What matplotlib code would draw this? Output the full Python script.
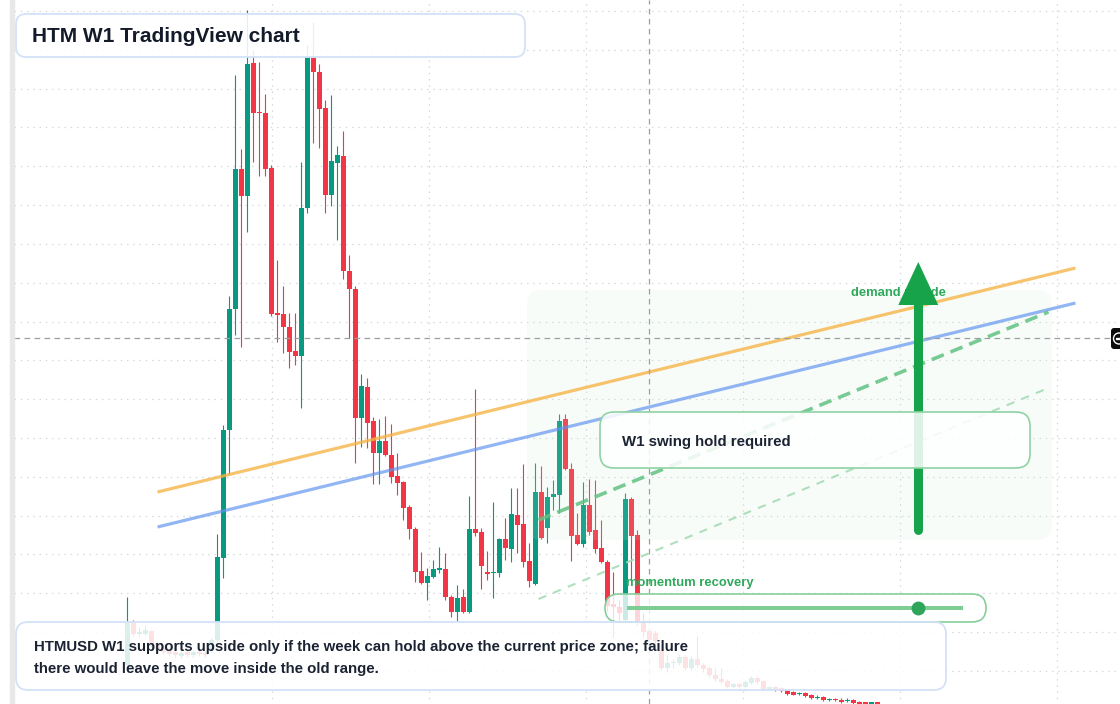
import numpy as np
import matplotlib
matplotlib.use("Agg")
import matplotlib.pyplot as plt
from matplotlib.patches import FancyBboxPatch, Polygon, Rectangle, Circle
from matplotlib.transforms import Affine2D

plt.rcParams['font.family'] = ['Liberation Sans', 'DejaVu Sans']

# ---------------- data (weekly HTMUSD candles) ----------------
open_ = [0.39, 0.82, 0.70, 0.70, 0.73, 0.61, 0.56, 0.53, 0.52, 0.48,
         0.52, 0.49, 0.52, 0.51, 0.54, 0.64, 1.46, 2.74, 3.95, 5.35,
         5.08, 6.41, 5.92, 5.91, 5.36, 3.91, 3.90, 3.77, 3.53, 3.48,
         4.96, 6.46, 6.32, 5.96, 5.09, 5.41, 5.48, 4.33, 4.15, 2.86,
         3.17, 2.83, 2.51, 2.63, 2.49, 2.28, 2.22, 1.97, 1.75, 1.33,
         1.21, 1.27, 1.34, 1.35, 1.07, 0.92, 1.07, 0.92, 1.75, 1.72,
         1.32, 1.31, 1.31, 1.65, 1.55, 1.89, 1.80, 1.43, 1.20, 2.12,
         1.76, 2.07, 2.09, 2.85, 2.35, 1.69, 1.60, 1.99, 1.74, 1.56,
         1.42, 1.00, 0.97, 0.84, 2.05, 1.69, 0.83, 0.73, 0.71, 0.54,
         0.36, 0.41, 0.41, 0.47, 0.36, 0.45, 0.39, 0.36, 0.29, 0.25,
         0.23, 0.17, 0.20, 0.17, 0.21, 0.26, 0.23, 0.15, 0.17, 0.16,
         0.14, 0.12, 0.10, 0.11, 0.09, 0.06, 0.07, 0.04, 0.05, 0.04,
         0.03, 0.04, 0.020, 0.012, 0.004, 0.012]
high = [1.07, 0.84, 0.77, 0.79, 0.74, 0.63, 0.58, 0.55, 0.54, 0.53,
        0.54, 0.54, 0.54, 0.53, 0.66, 1.70, 2.79, 4.08, 6.29, 5.55,
        6.94, 6.54, 6.42, 6.10, 5.39, 4.44, 4.18, 3.91, 3.91, 5.42,
        6.59, 6.82, 6.40, 6.04, 6.09, 5.58, 5.73, 4.49, 4.18, 3.30,
        3.26, 2.87, 2.85, 2.88, 2.80, 2.51, 2.23, 1.99, 1.77, 1.52,
        1.36, 1.44, 1.57, 1.51, 1.09, 1.19, 1.15, 2.08, 3.15, 1.76,
        1.53, 2.02, 1.66, 1.86, 2.16, 2.16, 2.40, 1.61, 2.41, 2.38,
        2.17, 2.24, 2.90, 2.90, 2.41, 1.91, 2.22, 2.25, 2.24, 1.84,
        1.44, 1.32, 1.04, 2.11, 2.07, 1.74, 0.91, 0.76, 0.74, 0.59,
        0.49, 0.45, 0.50, 0.49, 0.48, 0.68, 0.41, 0.38, 0.36, 0.36,
        0.25, 0.21, 0.21, 0.24, 0.28, 0.28, 0.24, 0.18, 0.18, 0.17,
        0.15, 0.13, 0.12, 0.12, 0.10, 0.09, 0.08, 0.06, 0.06, 0.06,
        0.06, 0.05, 0.03, 0.02, 0.02, 0.02]
low = [0.36, 0.68, 0.68, 0.69, 0.57, 0.52, 0.50, 0.48, 0.47, 0.46,
       0.47, 0.47, 0.48, 0.47, 0.52, 0.62, 1.26, 2.30, 3.69, 3.57,
       4.72, 5.42, 5.28, 5.28, 3.88, 3.62, 3.51, 3.36, 3.39, 2.96,
       4.91, 5.61, 5.56, 4.91, 4.98, 4.64, 4.25, 3.66, 2.41, 2.57,
       2.56, 2.20, 2.20, 2.48, 2.21, 2.09, 1.84, 1.65, 1.22, 1.20,
       1.04, 1.26, 1.31, 1.04, 0.87, 0.83, 0.91, 0.91, 1.68, 1.15,
       1.24, 1.06, 1.27, 1.44, 1.42, 1.51, 1.37, 1.17, 1.19, 1.65,
       1.61, 1.94, 1.91, 2.34, 1.43, 1.59, 1.57, 1.69, 1.51, 1.41,
       0.93, 0.67, 0.82, 0.82, 1.24, 0.79, 0.67, 0.54, 0.59, 0.34,
       0.32, 0.36, 0.39, 0.34, 0.34, 0.37, 0.32, 0.27, 0.23, 0.21,
       0.16, 0.16, 0.16, 0.16, 0.20, 0.20, 0.14, 0.14, 0.13, 0.12,
       0.09, 0.09, 0.09, 0.07, 0.05, 0.05, 0.03, 0.03, 0.03, 0.01,
       0.02, 0.00, 0.003, 0.002, 0.002, 0.002]
close = [0.81, 0.70, 0.72, 0.74, 0.59, 0.54, 0.52, 0.50, 0.49, 0.51,
         0.49, 0.52, 0.50, 0.49, 0.64, 1.47, 2.74, 3.95, 5.35, 5.08,
         6.40, 5.91, 5.91, 5.35, 3.90, 3.89, 3.77, 3.52, 3.48, 4.96,
         6.47, 6.32, 5.95, 5.09, 5.43, 5.49, 4.33, 4.15, 2.86, 3.18,
         2.81, 2.51, 2.63, 2.49, 2.27, 2.21, 1.96, 1.75, 1.32, 1.21,
         1.28, 1.35, 1.36, 1.07, 0.92, 1.06, 0.92, 1.75, 1.71, 1.38,
         1.30, 1.32, 1.65, 1.56, 1.90, 1.79, 1.42, 1.23, 2.12, 1.66,
         2.07, 2.10, 2.83, 2.35, 1.68, 1.60, 1.99, 1.72, 1.55, 1.42,
         0.98, 0.97, 0.91, 2.05, 1.68, 0.83, 0.72, 0.64, 0.63, 0.36,
         0.41, 0.42, 0.47, 0.36, 0.45, 0.39, 0.35, 0.29, 0.25, 0.22,
         0.17, 0.20, 0.17, 0.22, 0.26, 0.22, 0.15, 0.17, 0.14, 0.13,
         0.10, 0.09, 0.11, 0.08, 0.06, 0.07, 0.04, 0.05, 0.04, 0.02,
         0.04, 0.01, 0.005, 0.004, 0.012, 0.004]

# trend lines / annotations (x = week index, y = price)
orange_x = [5.0, 158.0]
orange_y = [2.12, 4.36]
blue_x = [5.0, 158.0]
blue_y = [1.77, 4.01]
green_dash_x = [68.5, 153.5]
green_dash_y = [1.84, 3.92]
light_dash_x = [68.5, 153.5]
light_dash_y = [1.05, 3.16]
arrow_x = 131.8
arrow_y = [1.74, 4.42]
momentum_x = [83.3, 139.2]
momentum_y = 0.96
momentum_dot = 131.8
cross_x = 87
cross_y = 3.66

title = "HTM W1 TradingView chart"
note = ("HTMUSD W1 supports upside only if the week can hold above the current price zone; failure\n"
        "there would leave the move inside the old range.")

# ---------------- figure ----------------
W, H = 1120, 704
fig = plt.figure(figsize=(W / 100, H / 100), dpi=100)
ax = fig.add_axes([0, 0, 1, 1])
ax.set_xlim(-21.25, 165.42)
ax.set_ylim(0, 7.04)
ax.axis('off')
fig.patch.set_facecolor('white')

# pixel transform (origin top-left)
PX = Affine2D().scale(1, -1).translate(0, H)

o = np.array(open_); h = np.array(high); l = np.array(low); c = np.array(close)
wk = np.arange(len(o))
up = c >= o
cols = np.where(up, '#089981', '#f23645')

# grid
grid_y = 6.93 - 0.3882 * np.arange(18)
for gy in grid_y:
    ax.plot([-18.9, 170], [gy, gy], color='#d5d8dc', lw=0.9,
            linestyle=(0, (1.2, 3.8)), zorder=0.5)
for gx in 24.08 + 26.17 * np.arange(6):
    ax.plot([gx, gx], [-1, 8], color='#d5d8dc', lw=0.9,
            linestyle=(0, (1.2, 3.8)), zorder=0.5)

# left price-scale strip
fig.add_artist(Rectangle((10, 0), 4, H, transform=PX, color='#e8e8e8', zorder=0.6))

# candles
ax.vlines(wk, l, h, colors=cols, linewidth=0.8, zorder=1.9)
ax.bar(wk, np.maximum(np.abs(c - o), 0.012), bottom=np.minimum(o, c),
       width=0.83, color=cols, linewidth=0, zorder=2)

# demand zone
ax.add_patch(FancyBboxPatch((527, 290), 525, 250, boxstyle="round,pad=0,rounding_size=14",
                            transform=PX, fc='#c6eed3', ec='none', alpha=0.12, zorder=2.5))

# trend lines
ax.plot(orange_x, orange_y, color='#f6b444', lw=2.3, alpha=0.78, zorder=3,
        solid_capstyle='butt')
ax.plot(blue_x, blue_y, color='#5f93ee', lw=2.3, alpha=0.68, zorder=3,
        solid_capstyle='butt')
ax.plot(green_dash_x, green_dash_y, color='#62c282', lw=2.6, alpha=0.85, zorder=3.1,
        linestyle=(0, (3.6, 2.0)))
ax.plot(light_dash_x, light_dash_y, color='#a6dcb6', lw=1.5, alpha=0.9, zorder=3.1,
        linestyle=(0, (4.0, 3.6)))

# crosshair
ax.axvline(cross_x, color='#9a9ea5', lw=0.9, linestyle=(0, (4.5, 3.5)), zorder=3.5)
ax.plot([-18.9, 164.0], [cross_y, cross_y], color='#9a9ea5', lw=0.9,
        linestyle=(0, (4.5, 3.5)), zorder=3.5)
fig.add_artist(FancyBboxPatch((1111, 328), 14, 21, boxstyle="round,pad=0,rounding_size=3",
                              transform=PX, fc='#0c0c0c', ec='none', zorder=9))
fig.add_artist(Circle((1119, 338.5), 5.5, transform=PX, fc='none', ec='white', lw=1.0, zorder=10))
fig.add_artist(Rectangle((1115.5, 338), 7, 1, transform=PX, color='white', zorder=10))

# demand upside label + arrow
ax.text(851, 293, "demand upside", transform=PX, fontsize=9.4, fontweight='bold',
        color='#2ea85a', ha='left', va='center', zorder=4.5)
head_h = 0.43
head_w = 3.33
ax.plot([arrow_x, arrow_x], [arrow_y[0], arrow_y[1] - head_h + 0.02], color='#16a34a',
        lw=6.5, solid_capstyle='round', zorder=5)
ax.add_patch(Polygon([(arrow_x - head_w, arrow_y[1] - head_h),
                      (arrow_x + head_w, arrow_y[1] - head_h),
                      (arrow_x, arrow_y[1])], closed=True, fc='#16a34a', ec='none', zorder=5))

# W1 swing box
ax.add_patch(FancyBboxPatch((600, 412), 430, 56, boxstyle="round,pad=0,rounding_size=14",
                            transform=PX, fc='white', alpha=0.86, ec='none', zorder=6))
ax.add_patch(FancyBboxPatch((600, 412), 430, 56, boxstyle="round,pad=0,rounding_size=14",
                            transform=PX, fc='none', ec='#8ed3a3', lw=1.2, zorder=6.1))
ax.text(622, 442, "W1 swing hold required", transform=PX, fontsize=10.8, fontweight='bold',
        color='#1b2333', ha='left', va='center', zorder=7)

# momentum recovery
ax.add_patch(FancyBboxPatch((605, 594), 381, 28, boxstyle="round,pad=0,rounding_size=14",
                            transform=PX, fc='white', alpha=0.8, ec='none', zorder=6))
ax.add_patch(FancyBboxPatch((605, 594), 381, 28, boxstyle="round,pad=0,rounding_size=14",
                            transform=PX, fc='none', ec='#86cf9c', lw=1.2, zorder=6.1))
ax.plot(momentum_x, [momentum_y, momentum_y], color='#7dcd95', lw=2.9, zorder=7,
        solid_capstyle='butt')
ax.plot([momentum_dot], [momentum_y], marker='o', markersize=10, color='#2ea55b',
        markeredgewidth=0, zorder=8)
ax.text(626, 583, "momentum recovery", transform=PX, fontsize=9.4, fontweight='bold',
        color='#2ea85a', ha='left', va='center', zorder=7)

# bottom note
ax.add_patch(FancyBboxPatch((16, 622), 930, 68, boxstyle="round,pad=0,rounding_size=12",
                            transform=PX, fc='white', alpha=0.86, ec='none', zorder=6))
ax.add_patch(FancyBboxPatch((16, 622), 930, 68, boxstyle="round,pad=0,rounding_size=12",
                            transform=PX, fc='none', ec='#d3e2f8', lw=1.3, zorder=6.1))
note_lines = note.split("\n")
for k, line in enumerate(note_lines):
    ax.text(34, 647.5 + 21 * k, line, transform=PX, fontsize=10.8, fontweight='bold',
            color='#1b2333', ha='left', va='center', zorder=7)

# title
ax.add_patch(FancyBboxPatch((16, 14), 509, 43, boxstyle="round,pad=0,rounding_size=10",
                            transform=PX, fc='white', alpha=0.88, ec='none', zorder=6))
ax.add_patch(FancyBboxPatch((16, 14), 509, 43, boxstyle="round,pad=0,rounding_size=10",
                            transform=PX, fc='none', ec='#d3e2f8', lw=1.3, zorder=6.1))
ax.text(32, 36, title, transform=PX, fontsize=15, fontweight='bold', color='#131a2a',
        ha='left', va='center', zorder=7)

fig.savefig("out.png", dpi=100, facecolor='white')
